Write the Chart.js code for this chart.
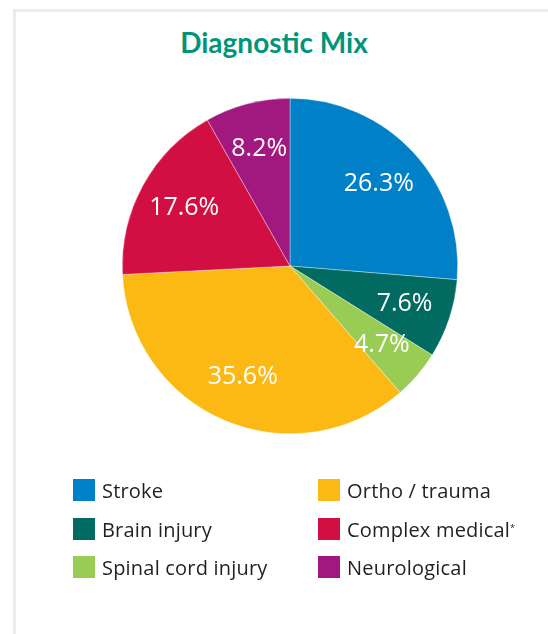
<!DOCTYPE html>
<html>
<head>
<meta charset="utf-8">
<script src="https://cdn.jsdelivr.net/npm/chart.js@4/dist/chart.umd.min.js"></script>
<style>
  html, body { margin:0; padding:0; background:#fff; overflow:hidden; }
  #wrap { position:relative; width:548px; height:634px; }
  #frame { position:absolute; left:13px; top:9px; width:600px; height:700px; border-left:3px solid #ebebeb; border-top:3px solid #ebebeb; box-sizing:border-box; }
  #title { position:absolute; left:0; width:548px; top:25px; text-align:center; font-family:Lato, sans-serif; font-weight:700; font-size:28px; color:#00957a; }
  canvas { position:absolute; left:0; top:0; }
  .item { position:absolute; height:22px; font-family:"Open Sans", sans-serif; font-size:20px; color:#231f20; white-space:nowrap; letter-spacing:0.2px; }
  .sw { position:absolute; left:0; top:0; width:22px; height:22px; }
  .lb { position:absolute; left:29px; top:-3px; line-height:30px; }
  .lb sup { font-size:9px; vertical-align:top; position:relative; top:-2px; }
</style>
</head>
<body>
<div id="wrap">
  <div id="frame"></div>
  <div id="title">Diagnostic Mix</div>
  <canvas id="c" width="548" height="634"></canvas>
  <div id="legend"></div>
</div>
<script>
const categories = ["Stroke", "Brain injury", "Spinal cord injury", "Ortho / trauma", "Complex medical", "Neurological"];
const values = [26.3, 7.6, 4.7, 35.6, 17.6, 8.2];
const valueLabels = ["26.3%", "7.6%", "4.7%", "35.6%", "17.6%", "8.2%"];
const legendSuffix = ["", "", "", "", "*", ""];
const colors = ["#0080c6", "#016b61", "#98cc54", "#fcb813", "#d20f42", "#a1197f"];

const labelPlugin = {
  id: 'sliceLabels',
  afterDatasetsDraw(chart) {
    const ctx = chart.ctx;
    const meta = chart.getDatasetMeta(0);
    ctx.save();
    ctx.fillStyle = '#ffffff';
    ctx.font = '400 25px "Open Sans", sans-serif';
    ctx.textAlign = 'center';
    ctx.textBaseline = 'middle';
    meta.data.forEach((arc, i) => {
      const p = arc.getProps(['x','y','startAngle','endAngle','outerRadius'], true);
      const a = (p.startAngle + p.endAngle) / 2;
      const r = p.outerRadius * 0.72;
      ctx.fillText(valueLabels[i], p.x + Math.cos(a) * r, p.y + Math.sin(a) * r);
    });
    ctx.restore();
  }
};

new Chart(document.getElementById('c'), {
  type: 'pie',
  data: {
    labels: categories,
    datasets: [{
      data: values,
      backgroundColor: colors,
      borderColor: 'rgba(255,255,255,0.6)',
      borderWidth: 0.6
    }]
  },
  options: {
    responsive: false,
    animation: false,
    layout: { padding: { left: 122, right: 90, top: 98, bottom: 200 } },
    plugins: { legend: { display: false }, tooltip: { enabled: false }, title: { display: false } }
  },
  plugins: [labelPlugin]
});

const legend = document.getElementById('legend');
categories.forEach((name, i) => {
  const col = Math.floor(i / 3), row = i % 3;
  const el = document.createElement('div');
  el.className = 'item';
  el.style.left = (col === 0 ? 73 : 318) + 'px';
  el.style.top = (479 + row * 38.5) + 'px';
  const sw = document.createElement('div');
  sw.className = 'sw';
  sw.style.background = colors[i];
  const lb = document.createElement('div');
  lb.className = 'lb';
  lb.textContent = name;
  if (legendSuffix[i]) {
    const s = document.createElement('sup');
    s.textContent = legendSuffix[i];
    lb.appendChild(s);
  }
  el.appendChild(sw);
  el.appendChild(lb);
  legend.appendChild(el);
});
</script>
</body>
</html>
